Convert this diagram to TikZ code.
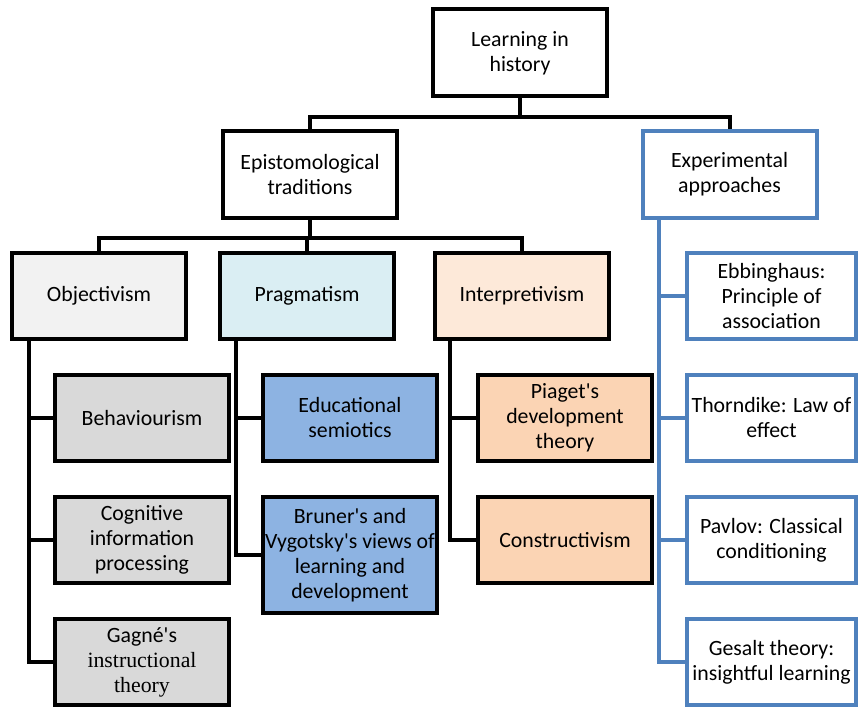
\documentclass[tikz,border=0pt]{standalone}
\usepackage{fontspec}
\setmainfont{Carlito}
\newfontfamily\timesfont{Liberation Serif}
\usetikzlibrary{backgrounds,calc}
\definecolor{bluel}{HTML}{4F81BD}
\definecolor{objfill}{HTML}{F2F2F2}
\definecolor{pragfill}{HTML}{DAEEF3}
\definecolor{intfill}{HTML}{FDE9D9}
\definecolor{greyfill}{HTML}{D9D9D9}
\definecolor{bluefill}{HTML}{8DB3E2}
\definecolor{peachfill}{HTML}{FBD4B4}
\newcommand\ap{\textquotesingle}
\tikzset{
  box/.style={draw=black, line width=4pt, fill=white, minimum width=174pt,
    minimum height=86pt, inner sep=0pt, align=center,
    font=\fontsize{21.8}{25}\selectfont},
  bbox/.style={box, draw=bluel, minimum width=169pt},
  conn/.style={draw=black, line width=4pt},
  bconn/.style={draw=bluel, line width=4pt},
}
\begin{document}
\begin{tikzpicture}[x=1pt,y=-1pt]
\useasboundingbox (0,0) rectangle (858,706);
% level 0-1
\node[box, minimum height=87pt] (root) at (520,53) {Learning in\\history};
\node[box, minimum height=87pt] (epi) at (310,174.5) {Epistomological\\traditions};
\node[box, draw=bluel, minimum height=87pt] (exp) at (729.5,174.5) {Experimental\\approaches};
% level 2
\node[box, fill=objfill] (obj) at (99,296) {Objectivism};
\node[box, fill=pragfill] (prag) at (307,296) {Pragmatism};
\node[box, fill=intfill] (intp) at (522,296) {Interpretivism};
% objectivism children
\node[box, fill=greyfill] (beh) at (142,418) {Behaviourism};
\node[box, fill=greyfill] (cog) at (142,540) {Cognitive\\information\\processing};
\node[box, fill=greyfill] (gag) at (142,662) {Gagné\ap s\\{\timesfont instructional}\\{\timesfont theory}};
% pragmatism children
\node[box, fill=bluefill] (edu) at (350,418) {Educational\\semiotics};
\node[box, fill=bluefill, minimum height=116pt] (bru) at (350,555) {Bruner\ap s and\\Vygotsky\ap s views of\\learning and\\development};
% interpretivism children
\node[box, fill=peachfill] (pia) at (565,418) {Piaget\ap s\\development\\theory};
\node[box, fill=peachfill] (con) at (565,540) {Constructivism};
% experimental children
\node[bbox] (ebb) at (771.5,296) {Ebbinghaus:\\Principle of\\association};
\node[bbox] (tho) at (771.5,418) {Thorndike: Law of\\effect};
\node[bbox] (pav) at (771.5,540) {Pavlov: Classical\\conditioning};
\node[bbox] (ges) at (771.5,662) {Gesalt theory:\\insightful learning};
% trunk coordinates
\coordinate (rbar) at ($(root.south)+(0,18)$);
\coordinate (ebar) at ($(epi.south)+(0,18)$);
\coordinate (otr) at ([xshift=19pt]obj.south west);
\coordinate (ptr) at ([xshift=18pt]prag.south west);
\coordinate (itr) at ([xshift=17pt]intp.south west);
\coordinate (xtr) at ([xshift=18pt]exp.south west);
\begin{scope}[on background layer]
\draw[conn] (root.south) -- (rbar);
\draw[conn] (rbar) -| (epi.north);
\draw[conn] (rbar) -| (exp.north);
\draw[conn] (epi.south) -- (ebar);
\draw[conn] (ebar) -| (obj.north);
\draw[conn] (ebar) -| (prag.north);
\draw[conn] (ebar) -| (intp.north);
\draw[conn] (otr) |- (beh.west);
\draw[conn] (otr) |- (cog.west);
\draw[conn] (otr) |- (gag.west);
\draw[conn] (ptr) |- (edu.west);
\draw[conn] (ptr) |- (bru.west);
\draw[conn] (itr) |- (pia.west);
\draw[conn] (itr) |- (con.west);
\draw[bconn] (xtr) |- (ebb.west);
\draw[bconn] (xtr) |- (tho.west);
\draw[bconn] (xtr) |- (pav.west);
\draw[bconn] (xtr) |- (ges.west);
\end{scope}
\end{tikzpicture}
\end{document}
